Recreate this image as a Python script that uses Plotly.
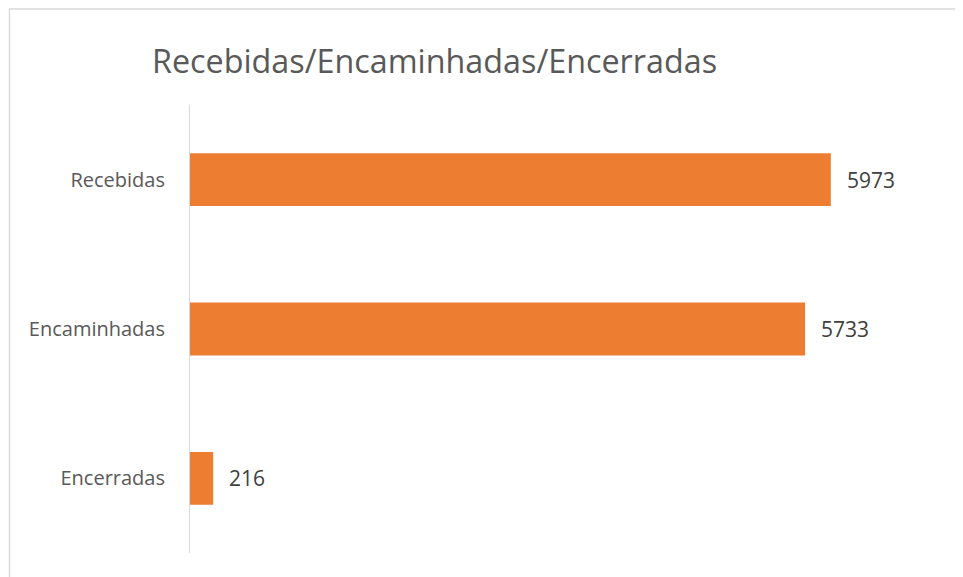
import plotly.graph_objects as go

categories = ["Recebidas", "Encaminhadas", "Encerradas"]
values = [5973, 5733, 216]
title_text = "Recebidas/Encaminhadas/Encerradas"

fig = go.Figure()
fig.add_trace(go.Bar(
    x=values, y=categories, orientation="h",
    marker=dict(color="#ED7D31", line=dict(width=0)),
    width=0.354, hoverinfo="skip",
))

for c, v in zip(categories, values):
    fig.add_annotation(x=v, y=c, text=str(v), showarrow=False,
                       xanchor="left", yanchor="middle", xshift=14,
                       font=dict(family="Open Sans", size=21, color="#404040"))

border = dict(color="#D9D9D9", width=1.5)
top_y = 1 + (105 - 9) / 448.5
left_x = (9.5 - 190) / 751

fig.update_layout(
    width=963, height=577,
    paper_bgcolor="white", plot_bgcolor="white",
    margin=dict(l=182, r=30, t=97, b=31.5),
    showlegend=False,
    title=dict(text=title_text, x=(152-8)/963, xanchor="left", xref="container",
               y=1-(62-8)/577, yanchor="middle", yref="container",
               font=dict(family="Open Sans", size=32.3, color="#595959")),
    xaxis=dict(range=[0, 7000], visible=False, showgrid=False, zeroline=False),
    yaxis=dict(autorange="reversed", showline=True, linecolor="#D9D9D9", linewidth=1,
               showgrid=False, ticks="", ticklabelstandoff=20,
               tickfont=dict(family="Open Sans", size=20, color="#595959")),
    shapes=[
        dict(type="line", xref="paper", yref="paper", x0=left_x, x1=1.1,
             y0=top_y, y1=top_y, line=border, layer="below"),
        dict(type="line", xref="paper", yref="paper", x0=left_x, x1=left_x,
             y0=-0.2, y1=top_y, line=border, layer="below"),
    ],
)

fig.write_html("out.html")
